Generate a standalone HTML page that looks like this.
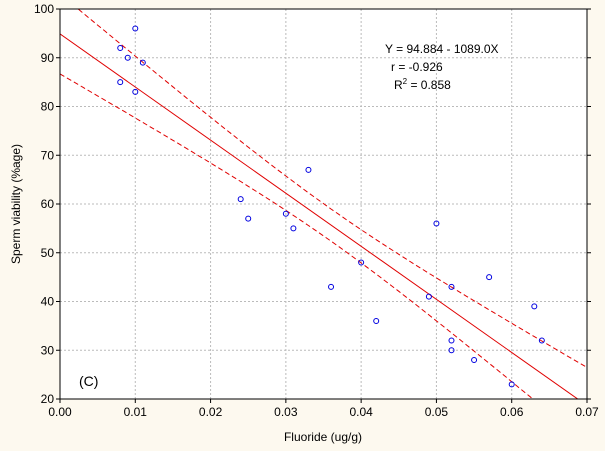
<!DOCTYPE html>
<html><head><meta charset="utf-8"><style>
body{margin:0;background:#fdf9ef;}
svg{display:block;font-family:"Liberation Sans",sans-serif;}
</style></head><body>
<svg id="chart" width="605" height="451">
<rect x="0" y="0" width="605" height="451" fill="#fdf9ef"/>
<rect x="60" y="9" width="527" height="390" fill="#fff"/>
<g id="grid"></g>
<g id="bands"></g>
<g id="points"></g>
<rect x="60" y="9" width="527" height="390" fill="none" stroke="#000" stroke-width="1"/>
<g id="ticks"></g>
<text x="385" y="53" font-size="12">Y = 94.884 - 1089.0X</text>
<text x="391" y="71" font-size="12">r = -0.926</text>
<text x="394" y="89" font-size="12">R<tspan font-size="8" dy="-5">2</tspan><tspan dy="5"> = 0.858</tspan></text>
<text x="79" y="386" font-size="14">(C)</text>
<text x="323" y="441" font-size="12" text-anchor="middle">Fluoride (ug/g)</text>
<text transform="translate(20,204) rotate(-90)" font-size="12" text-anchor="middle">Sperm viability (%age)</text>
</svg>
<script>
const xTicks=[0,0.01,0.02,0.03,0.04,0.05,0.06,0.07];
const xTickLabels=["0.00","0.01","0.02","0.03","0.04","0.05","0.06","0.07"];
const yTicks=[20,30,40,50,60,70,80,90,100];
const xVals=[0.008,0.008,0.009,0.010,0.010,0.011,0.024,0.025,0.030,0.031,0.033,0.036,0.040,0.042,0.049,0.050,0.052,0.052,0.052,0.055,0.057,0.060,0.063,0.064];
const yVals=[92,85,90,96,83,89,61,57,58,55,67,43,48,36,41,56,43,32,30,28,45,23,39,32];
const fitCoef=[94.884,-1089.0];
const bandParams=[3.3,0.036,208.5];
const NS="http://www.w3.org/2000/svg";
const X0=60,X1=587,Y0=399,Y1=9;
const sx=v=>X0+(v-0)/(0.07)*(X1-X0);
const sy=v=>Y0-(v-20)/80*(Y0-Y1);
function mk(t,a,p){const e=document.createElementNS(NS,t);for(const k in a)e.setAttribute(k,a[k]);p.appendChild(e);return e;}
const grid=document.getElementById('grid'),ticks=document.getElementById('ticks');
xTicks.forEach((v,i)=>{
 if(i>0&&i<xTicks.length-1){const l=mk('line',{x1:sx(v),x2:sx(v),y1:Y1,y2:Y0,stroke:'#bbb','stroke-dasharray':'2,2'},grid);
 
 }
 const t=mk('line',{x1:sx(v),x2:sx(v),y1:Y0,y2:Y0+4,stroke:'#000'},ticks);
 
 
 const tx=mk('text',{x:sx(v),y:Y0+17,'font-size':12,'text-anchor':'middle'},ticks);tx.textContent=xTickLabels[i];
 
 
});
yTicks.forEach((v,i)=>{
 if(i>0&&i<yTicks.length-1){const l=mk('line',{x1:X0,x2:X1,y1:sy(v),y2:sy(v),stroke:'#bbb','stroke-dasharray':'2,2'},grid);
 
 }
 const t=mk('line',{x1:X0-4,x2:X0,y1:sy(v),y2:sy(v),stroke:'#000'},ticks);
 
 
 const t2=mk('line',{x1:X1,x2:X1+4,y1:sy(v),y2:sy(v),stroke:'#000'},ticks);
 
 
 const tx=mk('text',{x:X0-6,y:sy(v)+4,'font-size':12,'text-anchor':'end'},ticks);tx.textContent=v;
 
 
});
const bands=document.getElementById('bands');
mk('clipPath',{id:'clp'},mk('defs',{},bands));
mk('rect',{x:X0,y:Y1,width:X1-X0,height:Y0-Y1},bands.querySelector('clipPath'));
const fit=x=>fitCoef[0]+fitCoef[1]*x;
const hw=x=>Math.sqrt(bandParams[0]**2+(bandParams[2]*(x-bandParams[1]))**2);
const fl=mk('line',{x1:sx(0),y1:sy(fit(0)),x2:sx(0.07),y2:sy(fit(0.07)),stroke:'#e00000','clip-path':'url(#clp)'},bands);


[1,-1].forEach(s=>{let d='';for(let i=0;i<=70;i++){const x=i*0.001;d+=(i?'L':'M')+sx(x).toFixed(1)+','+sy(fit(x)+s*hw(x)).toFixed(1);}
 const p=mk('path',{d:d,fill:'none',stroke:'#e00000','stroke-dasharray':'5,3','clip-path':'url(#clp)'},bands);
 
 });
const pts=document.getElementById('points');
xVals.forEach((x,i)=>{const c=mk('circle',{cx:sx(x),cy:sy(yVals[i]),r:2.5,fill:'none',stroke:'#0000e0','stroke-width':1},pts);
 
 });
</script>
</body></html>
